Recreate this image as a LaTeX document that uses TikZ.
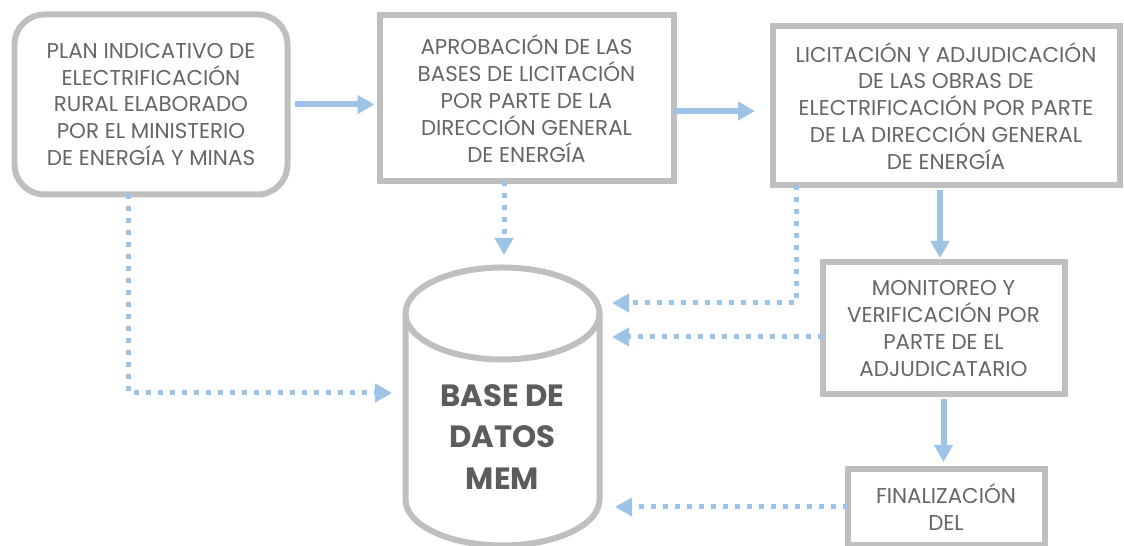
\documentclass[tikz,border=0pt]{standalone}
\usepackage{fontspec}
\setmainfont{Poppins}
\usepackage{tikz}
\usetikzlibrary{positioning,arrows.meta}
\usepackage{xcolor}
\definecolor{boxgray}{HTML}{BFBFBF}
\definecolor{flowblue}{HTML}{9DC3E6}
\definecolor{txtgray}{HTML}{666666}

\begin{document}
\begin{tikzpicture}[
  node distance=1.5cm and 1.9cm,
  box/.style={draw=boxgray, line width=0.12cm, fill=white, align=center, outer sep=0pt, inner sep=2pt, text=txtgray, font=\fontsize{12.2}{15.3}\selectfont},
  dbline/.style={draw=boxgray, line width=0.12cm},
  dbtext/.style={align=center, text=txtgray!90!black, font=\bfseries\fontsize{17.5}{23.5}\selectfont},
  arrow/.style={-{Triangle[width=0.36cm,length=0.34cm]}, line width=0.12cm, flowblue},
  dotarrow/.style={arrow, line width=0.1cm, dash pattern=on 0.1cm off 0.14cm}
]
\useasboundingbox (0,0) rectangle (22.48,10.92);
\node[box, rounded corners=0.6cm, minimum width=5.46cm, minimum height=3.6cm] (plan) at (3.02,8.83) {PLAN INDICATIVO DE\\ELECTRIFICACIÓN\\RURAL ELABORADO\\POR EL MINISTERIO\\DE ENERGÍA Y MINAS};
\node[box, minimum width=5.88cm, minimum height=3.32cm, right=1.84cm of plan, yshift=0.12cm] (aprob) {APROBACIÓN DE LAS\\BASES DE LICITACIÓN\\POR PARTE DE LA\\DIRECCIÓN GENERAL\\DE ENERGÍA};
\node[box, minimum width=6.94cm, minimum height=3.18cm, right=1.98cm of aprob, yshift=-0.15cm] (licit) {LICITACIÓN Y ADJUDICACIÓN\\DE LAS OBRAS DE\\ELECTRIFICACIÓN POR PARTE\\DE LA DIRECCIÓN GENERAL\\DE ENERGÍA};
\node[box, minimum width=4.84cm, minimum height=2.64cm, below=1.54cm of licit, xshift=-0.05cm] (moni) {MONITOREO Y\\VERIFICACIÓN POR\\PARTE DE EL\\ADJUDICATARIO};
\node[box, minimum width=3.94cm, minimum height=1.52cm, below=1.5cm of moni, xshift=0.05cm] (final) {FINALIZACIÓN\\DEL};
\node[minimum width=3.88cm, minimum height=5.56cm, outer sep=0pt, below=1.72cm of aprob, xshift=-0.48cm] (db) {};
\draw[dbline] ([yshift=-0.92cm]db.north west) -- ([yshift=0.92cm]db.south west)
  arc[start angle=180, end angle=360, x radius=1.94cm, y radius=0.92cm] -- ([yshift=-0.92cm]db.north east);
\draw[dbline] ([yshift=-0.92cm]db.north) ellipse[x radius=1.94cm, y radius=0.92cm];
\node[dbtext] (dblabel) at ([yshift=-0.61cm]db.center) {BASE DE\\DATOS\\MEM};
% arrow ends at the database
\coordinate (inPlan) at (7.84,3.06);
\coordinate (inAprob) at (10.08,5.82);
\coordinate (inLicit) at (12.24,4.86);
\coordinate (inMoni) at (12.24,4.18);
\coordinate (inFinal) at (12.3,0.78);
% flow
\draw[arrow, shorten <=0.15cm, shorten >=0.1cm] (plan.east) -- (plan.east -| aprob.west);
\draw[arrow, shorten >=0.35cm] ([yshift=-0.1cm]aprob.east |- licit.west) -- ([yshift=-0.1cm]licit.west);
\draw[arrow, shorten <=0.09cm, shorten >=0.09cm] ([xshift=-0.07cm]moni.north |- licit.south) -- ([xshift=-0.07cm]moni.north);
\draw[arrow, shorten <=0.09cm, shorten >=0.15cm] (moni.south) -- (moni.south |- final.north);
% records
\draw[dotarrow] ([xshift=-0.46cm]plan.south) |- (inPlan);
\draw[dotarrow] (aprob.south -| inAprob) -- (inAprob);
\draw[dotarrow] ([xshift=0.47cm]licit.south west) |- (inLicit);
\draw[dotarrow] (moni.west |- inMoni) -- (inMoni);
\draw[dotarrow] (final.west |- inFinal) -- (inFinal);
\end{tikzpicture}
\end{document}
